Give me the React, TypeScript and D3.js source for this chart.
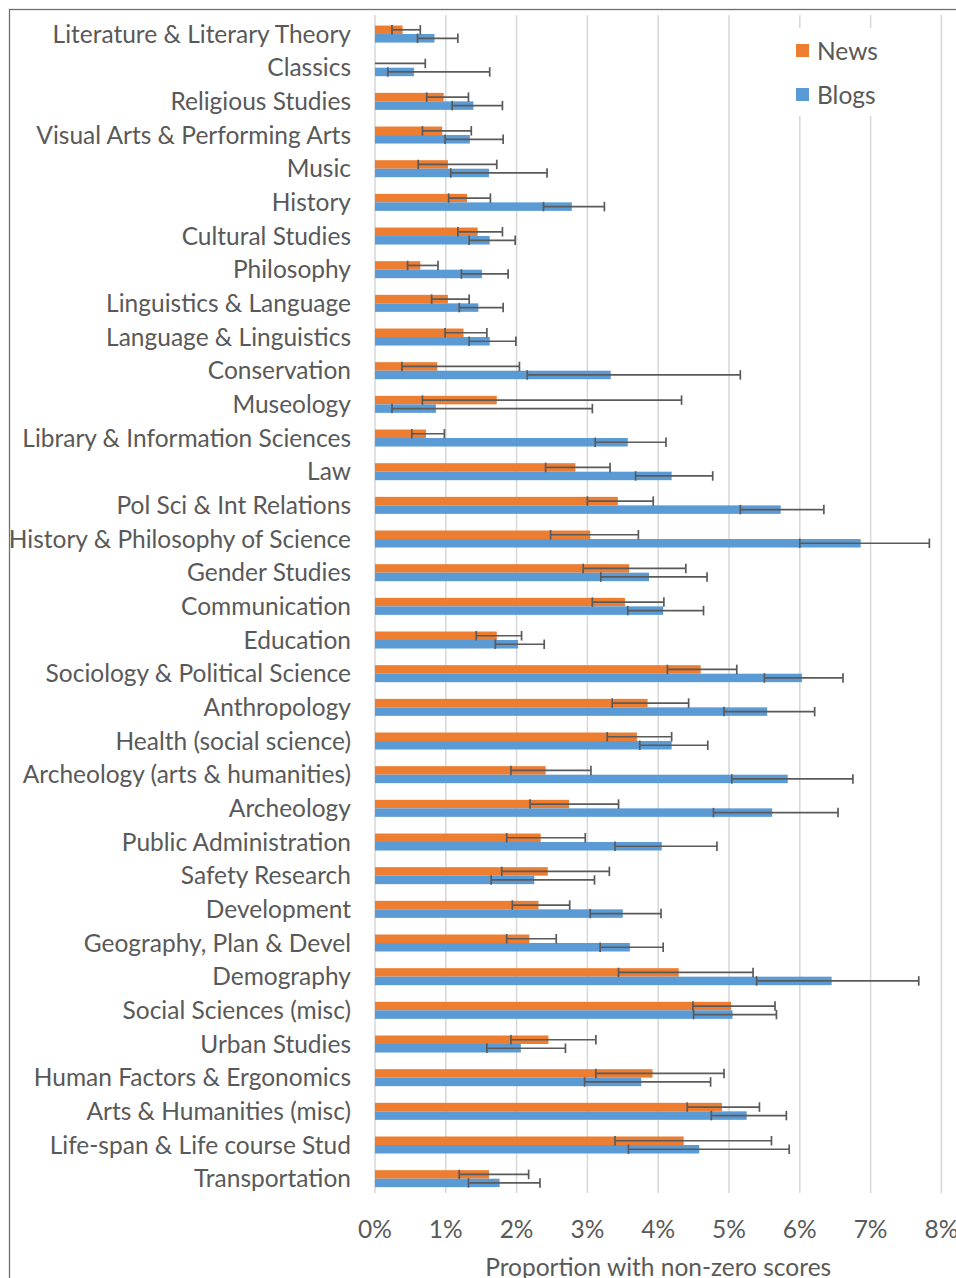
import React from "react";
import * as d3 from "d3";

// Subject categories, listed top to bottom
const categories = [
  "Literature & Literary Theory",
  "Classics",
  "Religious Studies",
  "Visual Arts & Performing Arts",
  "Music",
  "History",
  "Cultural Studies",
  "Philosophy",
  "Linguistics & Language",
  "Language & Linguistics",
  "Conservation",
  "Museology",
  "Library & Information Sciences",
  "Law",
  "Pol Sci & Int Relations",
  "History & Philosophy of Science",
  "Gender Studies",
  "Communication",
  "Education",
  "Sociology & Political Science",
  "Anthropology",
  "Health (social science)",
  "Archeology (arts & humanities)",
  "Archeology",
  "Public Administration",
  "Safety Research",
  "Development",
  "Geography, Plan & Devel",
  "Demography",
  "Social Sciences (misc)",
  "Urban Studies",
  "Human Factors & Ergonomics",
  "Arts & Humanities (misc)",
  "Life-span & Life course Stud",
  "Transportation",
];

// News: proportion with non-zero scores (%) and its confidence interval
const newsValue = [0.39, 0, 0.97, 0.95, 1.03, 1.3, 1.45, 0.64, 1.03, 1.25, 0.88, 1.72, 0.72, 2.83, 3.43, 3.04, 3.59, 3.53, 1.72, 4.6, 3.85, 3.7, 2.41, 2.74, 2.34, 2.44, 2.31, 2.18, 4.29, 5.03, 2.45, 3.92, 4.9, 4.36, 1.61];
const newsLow = [0.24, 0, 0.73, 0.67, 0.61, 1.04, 1.17, 0.46, 0.8, 0.99, 0.38, 0.67, 0.52, 2.41, 3.0, 2.48, 2.94, 3.07, 1.43, 4.13, 3.35, 3.28, 1.92, 2.19, 1.86, 1.79, 1.94, 1.86, 3.44, 4.49, 1.92, 3.12, 4.41, 3.39, 1.19];
const newsHigh = [0.64, 0.71, 1.32, 1.36, 1.72, 1.63, 1.8, 0.89, 1.33, 1.58, 2.04, 4.33, 0.98, 3.32, 3.93, 3.72, 4.39, 4.08, 2.07, 5.11, 4.43, 4.19, 3.05, 3.44, 2.97, 3.31, 2.75, 2.56, 5.34, 5.65, 3.12, 4.93, 5.43, 5.6, 2.17];

// Blogs: proportion with non-zero scores (%) and its confidence interval
const blogsValue = [0.84, 0.55, 1.39, 1.34, 1.61, 2.78, 1.62, 1.51, 1.46, 1.62, 3.33, 0.86, 3.57, 4.19, 5.73, 6.86, 3.87, 4.07, 2.02, 6.03, 5.54, 4.19, 5.83, 5.61, 4.05, 2.25, 3.5, 3.6, 6.45, 5.05, 2.06, 3.76, 5.25, 4.58, 1.76];
const blogsLow = [0.6, 0.18, 1.09, 0.99, 1.07, 2.38, 1.33, 1.22, 1.19, 1.33, 2.15, 0.24, 3.11, 3.68, 5.16, 6.0, 3.19, 3.57, 1.7, 5.5, 4.93, 3.74, 5.04, 4.78, 3.39, 1.64, 3.04, 3.18, 5.39, 4.5, 1.58, 2.96, 4.75, 3.58, 1.32];
const blogsHigh = [1.17, 1.62, 1.8, 1.81, 2.43, 3.24, 1.98, 1.88, 1.81, 1.99, 5.16, 3.07, 4.11, 4.77, 6.34, 7.83, 4.69, 4.64, 2.39, 6.61, 6.21, 4.7, 6.75, 6.54, 4.83, 3.1, 4.04, 4.07, 7.68, 5.67, 2.69, 4.74, 5.81, 5.85, 2.33];

const xTicks = [0, 1, 2, 3, 4, 5, 6, 7, 8];

const seriesNames = ["News", "Blogs"];
const seriesColors = ["#ED7D31", "#5B9BD5"];

const W = 956;
const H = 1278;
const FONT = "Lato, 'Open Sans', sans-serif";
const TEXT = "#595959";
const FS = 24.5;

export default function App() {
  const x = d3.scaleLinear().domain([0, 8]).range([375, 941.4]);
  const y = d3.scaleBand<string>().domain(categories).range([17.2, 1195.5]).paddingInner(0.495).paddingOuter(0.2475);
  const barH = y.bandwidth() / 2;
  const plotTop = 15;
  const plotBottom = 1193;

  const series = [
    { name: seriesNames[0], color: seriesColors[0], v: newsValue, lo: newsLow, hi: newsHigh, off: 0 },
    { name: seriesNames[1], color: seriesColors[1], v: blogsValue, lo: blogsLow, hi: blogsHigh, off: 1 },
  ];

  return (
    <svg
      width={W}
      height={H}
      style={{ position: "absolute", left: 0, top: 0, background: "#fff" }}
      fontFamily={FONT}
    >
      <rect x={0} y={0} width={W} height={H} fill="#fff" />
      {/* chart frame */}
      <rect x={9.5} y={9.5} width={W + 20} height={H + 20} fill="none" stroke="#6f6f6f" strokeWidth={1.3} />

      {/* vertical gridlines */}
      {xTicks.map((t) => (
        <line key={"g" + t} x1={x(t)} x2={x(t)} y1={plotTop} y2={plotBottom} stroke="#D9D9D9" strokeWidth={1.6} />
      ))}

      {/* bars */}
      {series.map((s) =>
        categories.map((c, i) => (
          <rect
            key={s.name + c}
            x={x(0)}
            y={(y(c) as number) + s.off * barH}
            width={x(s.v[i]) - x(0)}
            height={barH}
            fill={s.color}
          />
        ))
      )}

      {/* error bars */}
      {series.map((s) =>
        categories.map((c, i) => {
          const cy = (y(c) as number) + s.off * barH + barH / 2;
          const capH = barH / 2 + 0.5;
          return (
            <g key={"e" + s.name + c} stroke="#5a5a5a" strokeWidth={1.7}>
              <line x1={x(s.lo[i])} x2={x(s.hi[i])} y1={cy} y2={cy} />
              {s.lo[i] > 0 && <line x1={x(s.lo[i])} x2={x(s.lo[i])} y1={cy - capH} y2={cy + capH} />}
              <line x1={x(s.hi[i])} x2={x(s.hi[i])} y1={cy - capH} y2={cy + capH} />
            </g>
          );
        })
      )}

      {/* category labels */}
      {categories.map((c) => (
        <text
          key={"l" + c}
          x={351}
          y={(y(c) as number) + barH + FS * 0.35}
          textAnchor="end"
          fontSize={FS}
          fill={TEXT}
        >
          {c}
        </text>
      ))}

      {/* x tick labels */}
      {xTicks.map((t) => (
        <text key={"t" + t} x={x(t)} y={1238} textAnchor="middle" fontSize={FS} fill={TEXT}>
          {t + "%"}
        </text>
      ))}

      {/* axis title */}
      <text x={(x(0) + x(8)) / 2} y={1276} textAnchor="middle" fontSize={FS} fill={TEXT}>
        Proportion with non-zero scores
      </text>

      {/* legend */}
      <rect x={782} y={28} width={100} height={88} fill="#fff" />
      {series.map((s, i) => (
        <g key={"lg" + s.name} transform={`translate(796, ${51 + i * 44})`}>
          <rect x={0} y={-7} width={13} height={13} fill={s.color} />
          <text x={21} y={FS * 0.35} fontSize={FS} fill={TEXT}>
            {s.name}
          </text>
        </g>
      ))}
    </svg>
  );
}
